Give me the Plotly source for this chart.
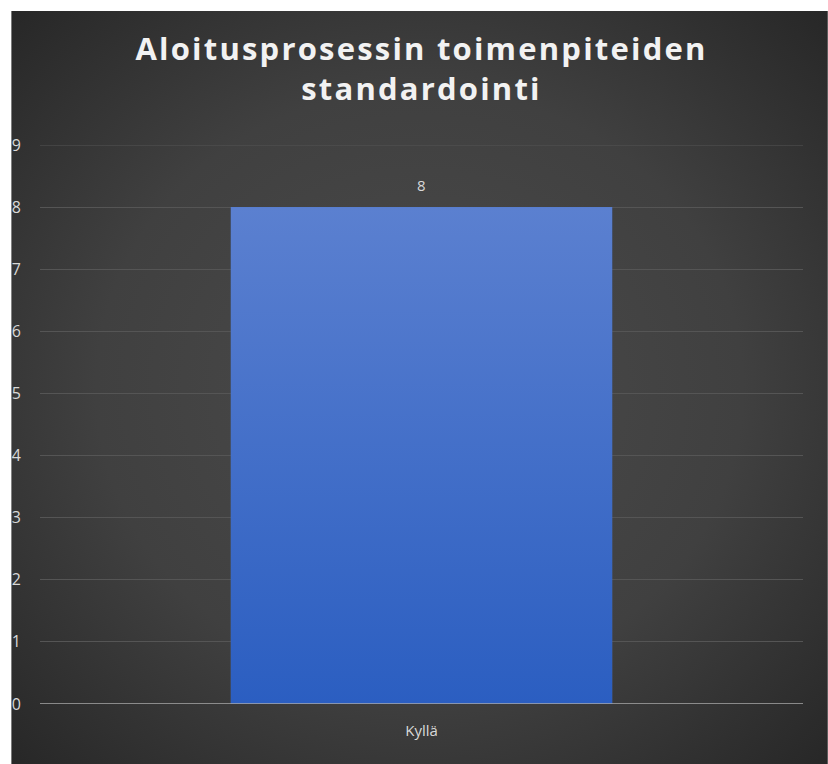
import base64
import plotly.graph_objects as go

# Chart data
categories = ["Kyllä"]
values = [8]
y_ticks = list(range(0, 10))

TITLE = "Aloitusprosessin toimenpiteiden<br>standardointi"
BAR_WIDTH = 0.5

W, H = 828, 764
M_L, M_R, M_T, M_B = 36, 25, 145, 60
PLOT_W = W - M_L - M_R
PLOT_H = H - M_T - M_B


def svg_uri(svg):
    return "data:image/svg+xml;base64," + base64.b64encode(svg.encode()).decode()


# dark radial backdrop of the chart area
bg_svg = (
    '<svg xmlns="http://www.w3.org/2000/svg" width="400" height="400" '
    'viewBox="0 0 400 400" preserveAspectRatio="none">'
    '<defs><radialGradient id="g" cx="50%" cy="50%" r="72%">'
    '<stop offset="0" stop-color="#4b4b4b"/>'
    '<stop offset="0.55" stop-color="#404040"/>'
    '<stop offset="1" stop-color="#262626"/>'
    '</radialGradient></defs>'
    '<rect width="400" height="400" fill="url(#g)"/></svg>'
)

# vertical blue shading for the column
bar_svg = (
    '<svg xmlns="http://www.w3.org/2000/svg" width="100" height="400" '
    'viewBox="0 0 100 400" preserveAspectRatio="none">'
    '<defs><linearGradient id="b" x1="0" y1="0" x2="0" y2="1">'
    '<stop offset="0" stop-color="#5b80d0"/>'
    '<stop offset="1" stop-color="#2b5ec1"/>'
    '</linearGradient></defs>'
    '<rect width="100" height="400" fill="url(#b)"/></svg>'
)

xpos = list(range(len(categories)))

fig = go.Figure(
    go.Bar(
        x=xpos,
        y=values,
        width=BAR_WIDTH,
        marker=dict(color="#4470c8", line=dict(width=0)),
        hoverinfo="skip",
    )
)


def px_to_paper_x(px):
    return (px - M_L) / PLOT_W


def px_to_paper_y(py):
    return (H - M_B - py) / PLOT_H


images = [
    dict(
        source=svg_uri(bg_svg),
        xref="paper", yref="paper",
        x=px_to_paper_x(7), y=px_to_paper_y(11),
        sizex=px_to_paper_x(W) - px_to_paper_x(7),
        sizey=px_to_paper_y(11) - px_to_paper_y(H),
        xanchor="left", yanchor="top",
        sizing="stretch", layer="below",
    )
]
for xi, v in zip(xpos, values):
    images.append(
        dict(
            source=svg_uri(bar_svg),
            xref="x", yref="y",
            x=xi - BAR_WIDTH / 2, y=v,
            sizex=BAR_WIDTH, sizey=v,
            xanchor="left", yanchor="top",
            sizing="stretch", layer="above",
        )
    )

shapes = [
    # top gridline at the upper end of the value range
    dict(type="line", xref="paper", yref="y", x0=0, x1=1,
         y0=y_ticks[-1], y1=y_ticks[-1],
         line=dict(color="#555555", width=1), layer="below"),
    # zero baseline
    dict(type="line", xref="paper", yref="y", x0=0, x1=1, y0=0, y1=0,
         line=dict(color="#a9a9a9", width=1.5), layer="above"),
    # white page margin on the left that trims the axis numbers
    dict(type="rect", xref="paper", yref="paper",
         x0=px_to_paper_x(-5), x1=px_to_paper_x(7),
         y0=px_to_paper_y(H + 5), y1=px_to_paper_y(-5),
         fillcolor="white", line=dict(width=0), layer="above"),
]

annotations = [
    dict(x=xi, y=v, xref="x", yref="y", text=str(v), showarrow=False,
         yshift=22, font=dict(family="Open Sans", size=15, color="#d9d9d9"))
    for xi, v in zip(xpos, values)
]

fig.update_layout(
    width=W, height=H,
    margin=dict(l=M_L, r=M_R, t=M_T, b=M_B),
    paper_bgcolor="white",
    plot_bgcolor="rgba(0,0,0,0)",
    showlegend=False,
    title=dict(
        text="<span style='letter-spacing:2.2px'>" + TITLE.replace("<br>", "</span><br><span style='letter-spacing:2.2px'>") + "</span>",
        x=0.5, xref="paper", xanchor="center",
        y=1 - 60 / H, yanchor="middle", yref="container",
        font=dict(family="Open Sans", size=31, color="#f2f2f2", weight="bold"),
    ),
    images=images,
    shapes=shapes,
    annotations=annotations,
    bargap=0.5,
)

fig.update_xaxes(
    range=[-0.5, len(categories) - 0.5],
    tickmode="array", tickvals=xpos, ticktext=categories,
    showgrid=False, zeroline=False, showline=False, ticks="",
    ticklabelstandoff=16,
    tickfont=dict(family="Open Sans", size=15, color="#d9d9d9"),
)
fig.update_yaxes(
    range=[0, 9],
    tickmode="array", tickvals=y_ticks,
    showgrid=True, gridcolor="#555555", gridwidth=1,
    zeroline=False, showline=False, ticks="",
    ticklabelstandoff=18,
    tickfont=dict(family="Open Sans", size=16, color="#d9d9d9"),
)

fig.write_html("out.html")
